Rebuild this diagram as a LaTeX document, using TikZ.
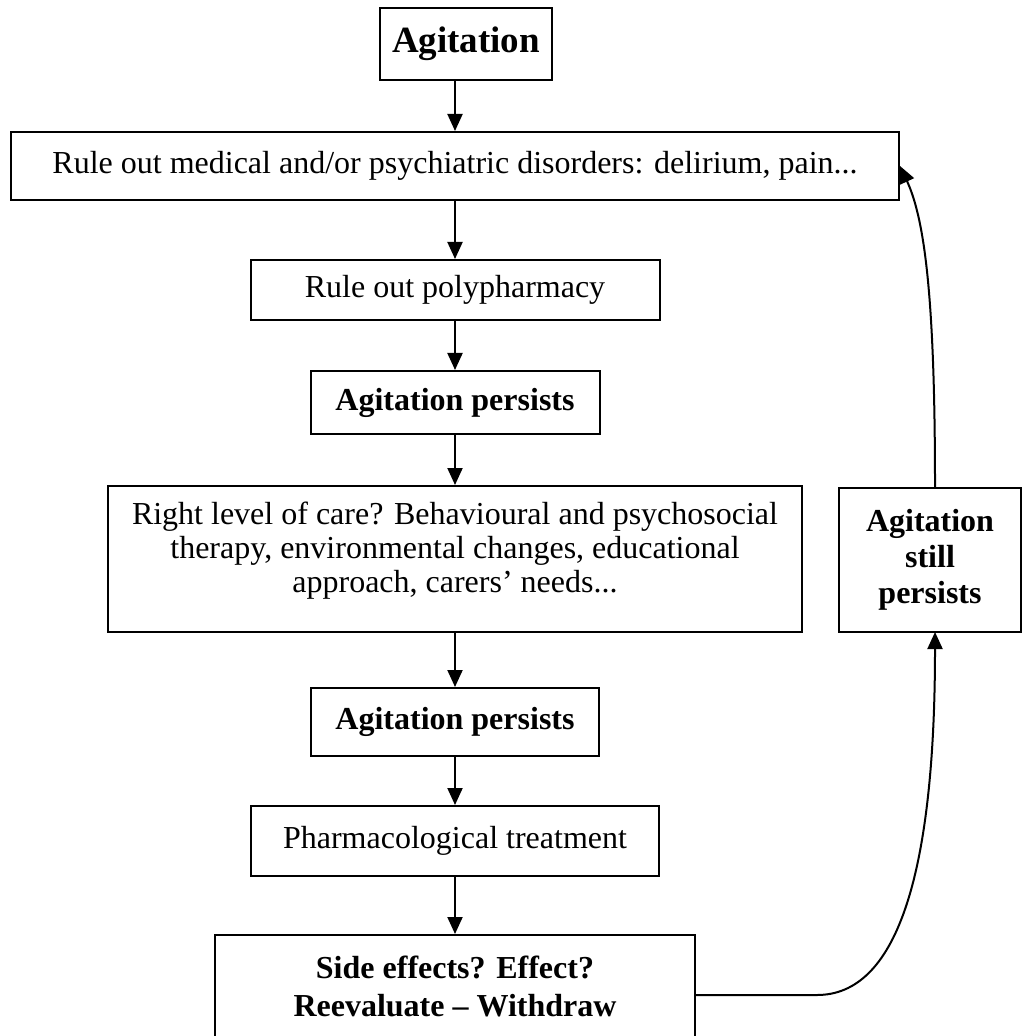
\documentclass[tikz,border=0pt]{standalone}
\usepackage{fontspec}
\setmainfont{Liberation Serif}
\usetikzlibrary{arrows.meta}

\tikzset{
  box/.style={draw, line width=1pt, rectangle, inner sep=0pt, align=center,
              font=\fontsize{16}{17}\selectfont},
  boldbox/.style={box, font=\fontsize{16}{18}\selectfont\bfseries},
  plain/.style={inner sep=0pt, align=center},
  arr/.style={line width=1pt, -{Triangle[width=7.5pt,length=8.5pt]}},
}

\begin{document}
\begin{tikzpicture}[x=0.5pt, y=-0.5pt]
\useasboundingbox (0,0) rectangle (1023,1036);

% main column of steps
\node[boldbox, font=\fontsize{18.5}{22}\selectfont\bfseries,
      minimum width=86pt, minimum height=36pt] (top) at (466,44) {Agitation};
\node[box, minimum width=444pt, minimum height=34pt] (rule) at (455,166)
  {Rule out medical and/or psychiatric disorders: delirium, pain...};
\node[box, minimum width=204.5pt, minimum height=30pt] (poly) at (455,290)
  {Rule out polypharmacy};
\node[boldbox, minimum width=144.5pt, minimum height=31.5pt] (ap1) at (455,402.5)
  {Agitation persists};
\node[box, minimum width=347pt, minimum height=73pt] (care) at (455,559) {};
\node[plain, font=\fontsize{16}{17}\selectfont] (caretxt) at (455,551)
  {Right level of care? Behavioural and psychosocial\\
   therapy, environmental changes, educational\\
   approach, carers' needs...};
\node[boldbox, minimum width=144pt, minimum height=34pt] (ap2) at (455,722)
  {Agitation persists};
\node[box, minimum width=204pt, minimum height=35pt] (pharm) at (455,841)
  {Pharmacological treatment};
\node[box, minimum width=240pt, minimum height=60pt] (side) at (455,995) {};
\node[plain, font=\fontsize{16}{19}\selectfont\bfseries] (sidetxt) at (455,986)
  {Side effects? Effect?\\Reevaluate -- Withdraw};

% feedback box on the right
\node[boldbox, minimum width=91pt, minimum height=72pt] (still) at (930,560)
  {Agitation\\still\\persists};
\coordinate (loopin) at (935,632);
\coordinate (loopout) at (935,488);
\coordinate (bend) at (817,995);

% downward flow
\draw[arr] (top.south -| rule) -- (rule);
\draw[arr] (rule) -- (poly);
\draw[arr] (poly) -- (ap1);
\draw[arr] (ap1) -- (care);
\draw[arr] (care) -- (ap2);
\draw[arr] (ap2) -- (pharm);
\draw[arr] (pharm) -- (side);

% loop back to the top
\draw[arr] (side.east) -- (bend) .. controls (895,995) and (935,880) .. (loopin);
\draw[arr] (loopout) .. controls (935,300) and (925,220) .. (rule.east);
\end{tikzpicture}
\end{document}
